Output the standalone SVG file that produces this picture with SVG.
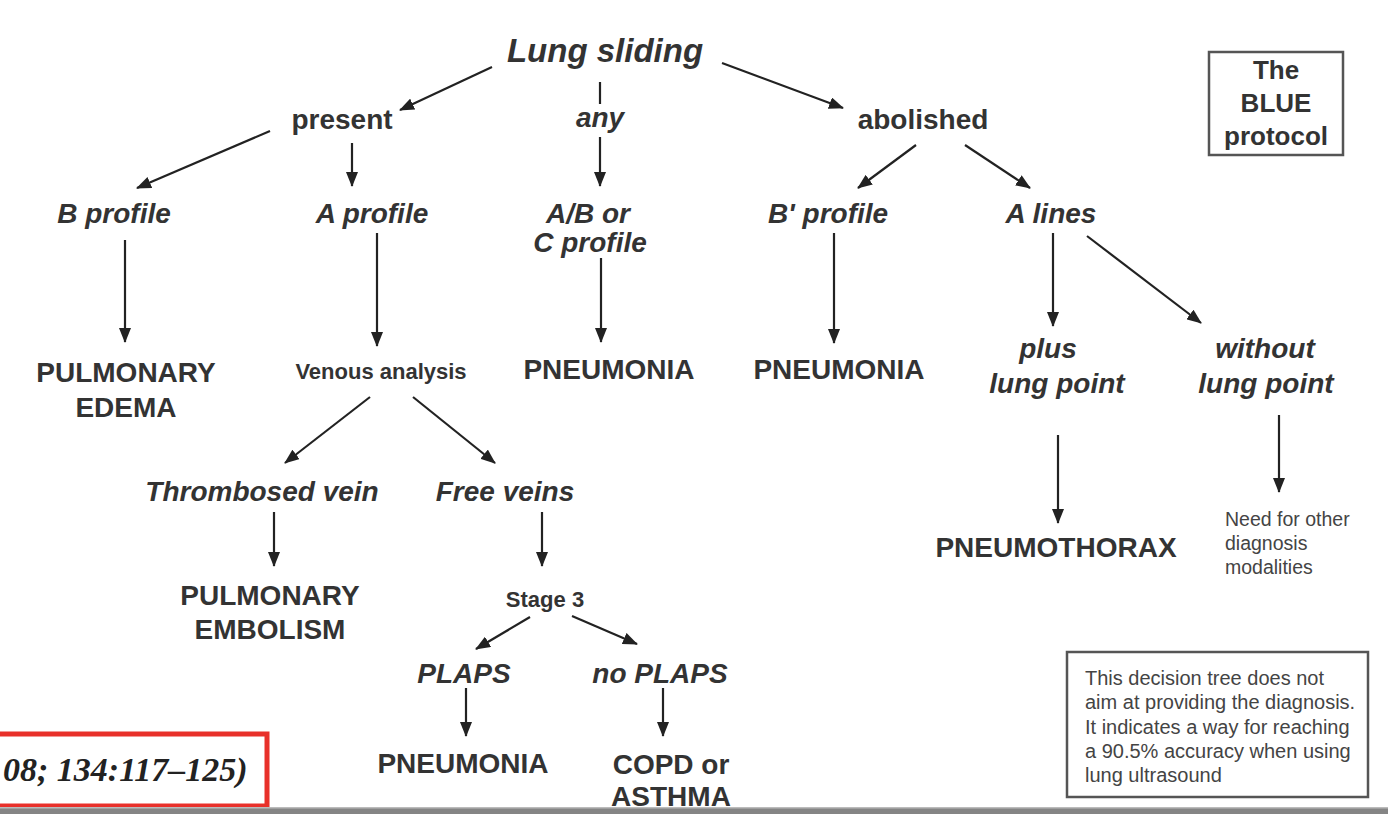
<svg xmlns="http://www.w3.org/2000/svg" width="1388" height="814" viewBox="0 0 1388 814">
<defs>
<marker id="ah" markerUnits="userSpaceOnUse" markerWidth="16" markerHeight="12" refX="14" refY="6" orient="auto">
<path d="M0,0 L15,6 L0,12 Z" fill="#222"/>
</marker>
<style>
text{font-family:"Liberation Sans",Arial,sans-serif;fill:#333;text-anchor:middle}
.b{font-weight:bold;font-size:28px}
.bi{font-weight:bold;font-style:italic;font-size:28px}
.sm{font-weight:bold;font-size:22px}
.note{font-size:19.5px;text-anchor:start;fill:#444}
.note2{font-size:20px;text-anchor:start;fill:#444}
.c line{stroke:#222;stroke-width:2.2}
.c .a{marker-end:url(#ah)}
.box{fill:none;stroke:#555;stroke-width:2.5}
</style>
</defs>
<rect width="1388" height="814" fill="#fff"/>

<g class="c" id="connectors">
<line class="a" x1="492" y1="67" x2="400" y2="110"/>
<line x1="600" y1="82" x2="600" y2="104"/>
<line class="a" x1="722" y1="63" x2="843" y2="108"/>
<line class="a" x1="270" y1="131" x2="137" y2="188"/>
<line class="a" x1="352" y1="143" x2="352" y2="186"/>
<line class="a" x1="600" y1="137" x2="600" y2="186"/>
<line class="a" x1="916" y1="145" x2="858" y2="188"/>
<line class="a" x1="965" y1="145" x2="1030" y2="188"/>
<line class="a" x1="125" y1="240" x2="125" y2="342"/>
<line class="a" x1="377" y1="233" x2="377" y2="346"/>
<line class="a" x1="601" y1="258" x2="601" y2="342"/>
<line class="a" x1="834" y1="233" x2="834" y2="343"/>
<line class="a" x1="1053" y1="233" x2="1053" y2="326"/>
<line class="a" x1="1087" y1="236" x2="1201" y2="323"/>
<line class="a" x1="370" y1="397" x2="285" y2="463"/>
<line class="a" x1="413" y1="397" x2="495" y2="463"/>
<line class="a" x1="274" y1="512" x2="274" y2="566"/>
<line class="a" x1="542" y1="512" x2="542" y2="566"/>
<line class="a" x1="1058" y1="435" x2="1058" y2="523"/>
<line class="a" x1="1279" y1="415" x2="1279" y2="492"/>
<line class="a" x1="530" y1="617" x2="476" y2="649"/>
<line class="a" x1="572" y1="616" x2="637" y2="644"/>
<line class="a" x1="466" y1="688" x2="466" y2="736"/>
<line class="a" x1="663" y1="688" x2="663" y2="736"/>
</g>

<g id="lung-sliding"><text class="bi" x="605" y="62" style="font-size:33px">Lung sliding</text></g>
<g id="present"><text class="b" x="342" y="129">present</text></g>
<g id="any"><text class="bi" x="600" y="127">any</text></g>
<g id="abolished"><text class="b" x="923" y="129">abolished</text></g>

<g id="b-profile"><text class="bi" x="114" y="223">B profile</text></g>
<g id="a-profile"><text class="bi" x="372" y="223">A profile</text></g>
<g id="abc-profile"><text class="bi" x="588" y="223">A/B or</text><text class="bi" x="590" y="252">C profile</text></g>
<g id="bprime-profile"><text class="bi" x="828" y="223">B' profile</text></g>
<g id="a-lines"><text class="bi" x="1051" y="223">A lines</text></g>

<g id="pulmonary-edema"><text class="b" x="126" y="382">PULMONARY</text><text class="b" x="126" y="417">EDEMA</text></g>
<g id="venous-analysis"><text class="sm" x="381" y="379">Venous analysis</text></g>
<g id="pneumonia-1"><text class="b" x="609" y="379">PNEUMONIA</text></g>
<g id="pneumonia-2"><text class="b" x="839" y="379">PNEUMONIA</text></g>
<g id="plus-lung-point"><text class="bi" x="1048" y="358">plus</text><text class="bi" x="1057" y="393">lung point</text></g>
<g id="without-lung-point"><text class="bi" x="1265" y="358">without</text><text class="bi" x="1266" y="393">lung point</text></g>

<g id="thrombosed-vein"><text class="bi" x="262" y="501">Thrombosed vein</text></g>
<g id="free-veins"><text class="bi" x="505" y="501">Free veins</text></g>
<g id="pneumothorax"><text class="b" x="1056" y="557">PNEUMOTHORAX</text></g>
<g id="need-other"><text class="note" x="1225" y="526">Need for other</text><text class="note" x="1225" y="550">diagnosis</text><text class="note" x="1225" y="574">modalities</text></g>

<g id="pulmonary-embolism"><text class="b" x="270" y="605">PULMONARY</text><text class="b" x="270" y="639">EMBOLISM</text></g>
<g id="stage-3"><text class="sm" x="545" y="607">Stage 3</text></g>
<g id="plaps"><text class="bi" x="464" y="683">PLAPS</text></g>
<g id="no-plaps"><text class="bi" x="660" y="683">no PLAPS</text></g>
<g id="pneumonia-3"><text class="b" x="463" y="773">PNEUMONIA</text></g>
<g id="copd-asthma"><text class="b" x="671" y="774">COPD or</text><text class="b" x="671" y="806">ASTHMA</text></g>

<g id="blue-protocol">
<rect class="box" x="1209" y="52" width="134" height="103"/>
<text x="1276" y="79" style="font-weight:bold;font-size:26px">The</text>
<text x="1276" y="112" style="font-weight:bold;font-size:26px">BLUE</text>
<text x="1276" y="145" style="font-weight:bold;font-size:26px">protocol</text>
</g>

<g id="disclaimer">
<rect class="box" x="1067" y="652" width="301" height="145"/>
<text class="note2" x="1085" y="685">This decision tree does not</text>
<text class="note2" x="1085" y="709">aim at providing the diagnosis.</text>
<text class="note2" x="1085" y="734">It indicates a way for reaching</text>
<text class="note2" x="1085" y="758">a 90.5% accuracy when using</text>
<text class="note2" x="1085" y="782">lung ultrasound</text>
</g>

<g id="citation">
<rect x="-5" y="734" width="272" height="72" fill="none" stroke="#e8302a" stroke-width="5"/>
<text x="3" y="781" style="font-family:'Liberation Serif','Times New Roman',serif;font-weight:bold;font-style:italic;font-size:34px;text-anchor:start;fill:#222">08; 134:117–125)</text>
</g>

<rect x="0" y="808" width="1388" height="6" fill="#858585"/>
<rect x="0" y="807" width="1388" height="1.5" fill="#bbb"/>
</svg>
